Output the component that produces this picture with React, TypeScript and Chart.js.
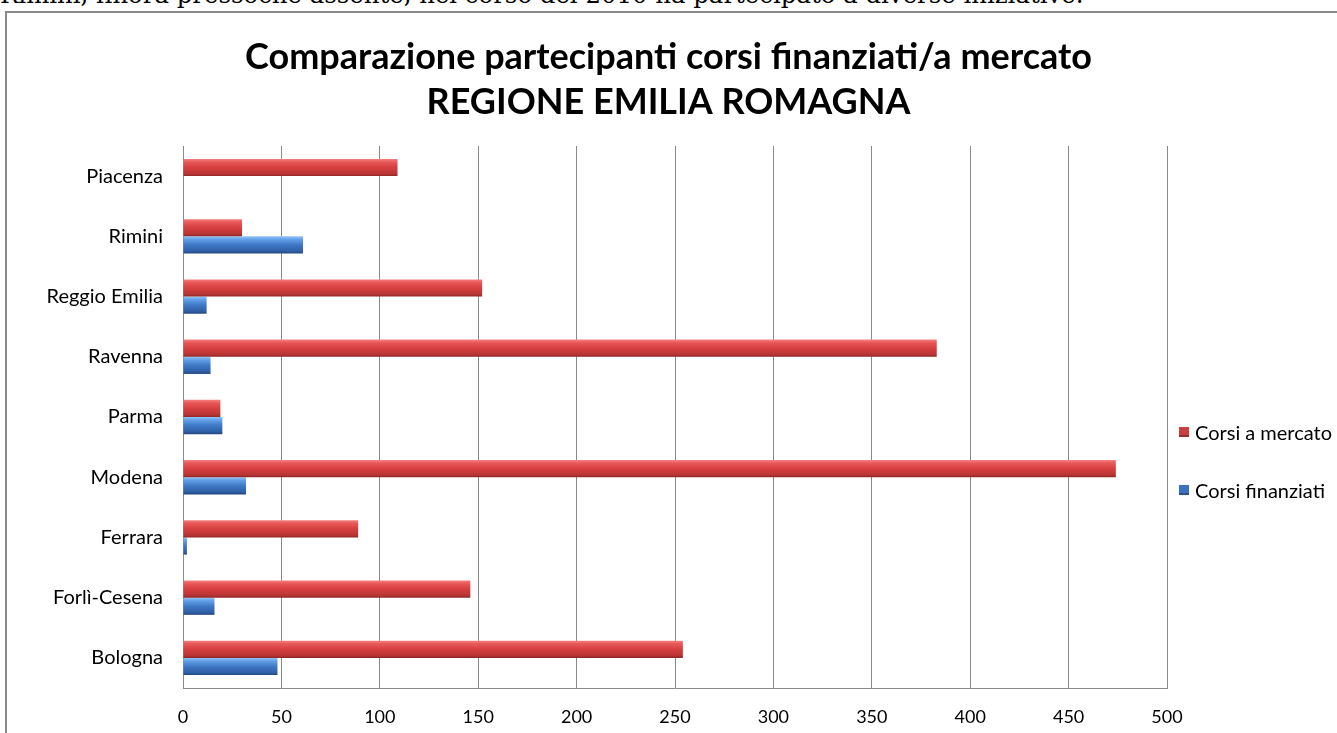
import React, { useEffect, useRef } from "react";
import { Chart, registerables } from "chart.js";

Chart.register(...registerables);

// ---- data ----
const categories = [
  "Piacenza",
  "Rimini",
  "Reggio Emilia",
  "Ravenna",
  "Parma",
  "Modena",
  "Ferrara",
  "Forlì-Cesena",
  "Bologna",
];
const corsiMercato = [109, 30, 152, 383, 19, 474, 89, 146, 254];
const corsiFinanziati = [0, 61, 12, 14, 20, 32, 2, 16, 48];
const seriesNames = ["Corsi a mercato", "Corsi finanziati"];
const xTickValues = [0, 50, 100, 150, 200, 250, 300, 350, 400, 450, 500];
const titleLines = [
  "Comparazione partecipanti corsi finanziati/a mercato",
  "REGIONE EMILIA ROMAGNA",
];
const aboveText =
  "Rimini, finora pressoché assente, nel corso del 2010 ha partecipato a diverse iniziative.";

// ---- style ----
const CAT_PCT = 0.57;
const RED_STOPS = ["#f48080", "#e85858", "#d63f3f", "#bb3535", "#8e2727"];
const BLUE_STOPS = ["#92c4f7", "#62a0e8", "#3f78c6", "#2f60a6", "#22467c"];
const LEGEND_FILL = ["#c8403e", "#3b72bd"];
const GRID = "#8a8a8a";
const FONT = "Lato, 'Open Sans', sans-serif";

function barFill(c: any, stops: string[]) {
  const chart = c.chart;
  const ys = chart.scales && chart.scales.y;
  if (!ys || c.dataIndex === undefined || ys.top === undefined) return stops[2];
  const center = ys.getPixelForValue(c.dataIndex);
  const band =
    Math.abs(ys.getPixelForValue(1) - ys.getPixelForValue(0)) || 60;
  const th = (band * CAT_PCT) / 2;
  const top = c.datasetIndex === 0 ? center - th : center;
  const g = chart.ctx.createLinearGradient(0, top, 0, top + th);
  g.addColorStop(0, stops[0]);
  g.addColorStop(0.18, stops[1]);
  g.addColorStop(0.5, stops[2]);
  g.addColorStop(0.85, stops[3]);
  g.addColorStop(1, stops[4]);
  return g;
}

export default function App() {
  const ref = useRef<HTMLCanvasElement>(null);

  useEffect(() => {
    document.body.style.margin = "0";
    const chart = new Chart(ref.current as HTMLCanvasElement, {
      type: "bar",
      data: {
        labels: categories,
        datasets: [
          {
            label: seriesNames[0],
            data: corsiMercato,
            backgroundColor: (c: any) => barFill(c, RED_STOPS),
            borderWidth: 0,
          },
          {
            label: seriesNames[1],
            data: corsiFinanziati,
            backgroundColor: (c: any) => barFill(c, BLUE_STOPS),
            borderWidth: 0,
          },
        ],
      },
      options: {
        indexAxis: "y",
        animation: false,
        responsive: true,
        maintainAspectRatio: false,
        datasets: {
          bar: { barPercentage: 1, categoryPercentage: CAT_PCT },
        },
        layout: { padding: 0 },
        plugins: {
          legend: { display: false },
          tooltip: { enabled: false },
          title: {
            display: true,
            text: titleLines,
            color: "#000",
            font: { family: FONT, size: 36, weight: "bold", lineHeight: 1.25 },
            padding: { top: 35, bottom: 21 },
          },
        },
        scales: {
          x: {
            min: 0,
            max: 500,
            afterBuildTicks: (s: any) => {
              s.ticks = xTickValues.map((v) => ({ value: v }));
            },
            ticks: {
              color: "#000",
              font: { family: FONT, size: 18 },
              padding: 18,
            },
            grid: { color: GRID, lineWidth: 1, drawTicks: false },
            border: { display: true, color: GRID, width: 1 },
            afterFit: (s: any) => {
              s.height = 45;
            },
          },
          y: {
            ticks: {
              color: "#000",
              font: { family: FONT, size: 20 },
              padding: 20,
            },
            grid: { display: false, drawTicks: false },
            border: { display: true, color: GRID, width: 1 },
            afterFit: (s: any) => {
              s.width = 183;
            },
          },
          legendSpace: {
            type: "linear",
            axis: "y",
            position: "right",
            display: true,
            ticks: { display: false },
            grid: { display: false, drawTicks: false },
            border: { display: false },
            afterFit: (s: any) => {
              s.width = 170;
            },
          },
        },
      },
    } as any);
    return () => chart.destroy();
  }, []);

  return (
    <div
      style={{
        position: "relative",
        width: 1337,
        height: 733,
        overflow: "hidden",
        background: "#fff",
      }}
    >
      <div
        style={{
          position: "absolute",
          left: 0,
          top: -17,
          whiteSpace: "nowrap",
          font: "24.4px 'DejaVu Serif', serif",
          lineHeight: "24px",
          color: "#000",
        }}
      >
        {aboveText}
      </div>
      <div
        style={{
          position: "absolute",
          left: 5,
          top: 11,
          width: 1400,
          height: 800,
          borderLeft: "2px solid #898989",
          borderTop: "2px solid #898989",
        }}
      />
      <div
        style={{
          position: "absolute",
          left: 0,
          top: 0,
          width: 1337,
          height: 733,
        }}
      >
        <canvas ref={ref} />
      </div>
      {seriesNames.map((name, i) => (
        <div
          key={name}
          style={{
            position: "absolute",
            left: 1179,
            top: i === 0 ? 421 : 479,
            height: 22,
            display: "flex",
            alignItems: "center",
            font: `20px ${FONT}`,
            color: "#000",
            whiteSpace: "nowrap",
          }}
        >
          <span
            style={{
              display: "inline-block",
              width: 10,
              height: 10,
              marginRight: 6,
              background: `linear-gradient(${LEGEND_FILL[i]}, ${LEGEND_FILL[i]})`,
              boxShadow: "inset 0 -2px 0 rgba(0,0,0,0.25)",
            }}
          />
          {name}
        </div>
      ))}
    </div>
  );
}
